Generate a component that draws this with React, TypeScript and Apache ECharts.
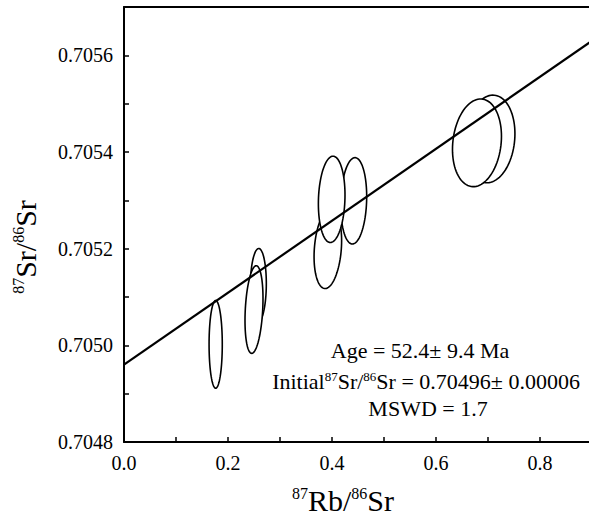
import React, { useEffect, useRef } from "react";
import * as echarts from "echarts";

// Isochron regression line (x = 87Rb/86Sr, y = 87Sr/86Sr)
const LINE_X = [0, 0.9];
const LINE_Y = [0.70496, 0.70563];

// Error ellipses (drawing order): centre x, centre y, half-width, half-height, correlation
const ELL_X = [0.1763, 0.2583, 0.25, 0.392, 0.4417, 0.3994, 0.7038, 0.6788];
const ELL_Y = [0.705002, 0.705124, 0.705074, 0.7052, 0.705299, 0.705302, 0.705427, 0.705419];
const ELL_SX = [0.0127, 0.0154, 0.0173, 0.0265, 0.025, 0.0256, 0.048, 0.0471];
const ELL_SY = [0.0000907, 0.0000763, 0.0000907, 0.0000825, 0.0000893, 0.0000893, 0.0000907, 0.0000907];
const ELL_RHO = [0, 0.05, 0.25, 0.2, 0.1, 0.1, 0.12, 0.15];

const X_MIN = 0;
const X_MAX = 0.9;
const Y_MIN = 0.7048;
const Y_MAX = 0.7057;

const FONT = "Liberation Serif";

export default function App() {
  const ref = useRef<HTMLDivElement>(null);
  useEffect(() => {
    if (!ref.current) return;
    const chart = echarts.init(ref.current, null, { renderer: "svg" });
    const ellData = ELL_X.map((x, i) => [x, ELL_Y[i], ELL_SX[i], ELL_SY[i], ELL_RHO[i]]);
    const axisLine = { show: true, lineStyle: { color: "#000", width: 2 } };
    chart.setOption({
      animation: false,
      backgroundColor: "#fff",
      textStyle: { fontFamily: FONT },
      grid: { left: 124, top: 7, right: -3, bottom: 80, containLabel: false, outerBoundsMode: "none" },
      xAxis: [
        {
          type: "value",
          min: X_MIN,
          max: X_MAX,
          interval: 0.1,
          axisLine,
          axisTick: { show: true, inside: true, length: 5, lineStyle: { color: "#000", width: 1.5 } },
          splitLine: { show: false },
          axisLabel: {
            margin: 11,
            color: "#000",
            fontSize: 20,
            fontFamily: "Times New Roman",
            showMaxLabel: false,
            formatter: (v: number) => (Math.round(v * 10) % 2 === 0 ? v.toFixed(1) : ""),
          },
        },
        {
          type: "value",
          position: "top",
          min: X_MIN,
          max: X_MAX,
          axisLine,
          axisTick: { show: false },
          axisLabel: { show: false },
          splitLine: { show: false },
        },
      ],
      yAxis: {
        type: "value",
        min: Y_MIN,
        max: Y_MAX,
        interval: 0.0001,
        axisLine,
        axisTick: { show: true, inside: true, length: 5, lineStyle: { color: "#000", width: 1.5 } },
        splitLine: { show: false },
        axisLabel: {
          margin: 11,
          color: "#000",
          fontSize: 20,
          fontFamily: "serif",
          showMaxLabel: false,
          formatter: (v: number) => (Math.round(v * 10000) % 2 === 0 ? v.toFixed(4) : ""),
        },
      },
      series: [
        {
          type: "line",
          xAxisIndex: 0,
          data: LINE_X.map((x, i) => [x, LINE_Y[i]]),
          symbol: "none",
          lineStyle: { color: "#000", width: 2.2 },
          silent: true,
        },
        {
          type: "custom",
          xAxisIndex: 0,
          data: ellData,
          encode: { x: 0, y: 1 },
          renderItem: (params: any, api: any) => {
            const cx = api.value(0);
            const cy = api.value(1);
            const sx = api.value(2);
            const sy = api.value(3);
            const r = api.value(4);
            const q = Math.sqrt(1 - r * r);
            const pts: number[][] = [];
            const n = 90;
            for (let i = 0; i < n; i++) {
              const t = (i / n) * Math.PI * 2;
              const x = cx + sx * Math.cos(t);
              const y = cy + sy * (r * Math.cos(t) + q * Math.sin(t));
              pts.push(api.coord([x, y]));
            }
            return {
              type: "polygon",
              shape: { points: pts },
              style: { fill: "#fff", stroke: "#000", lineWidth: 1.6 },
            };
          },
        },
      ],
      graphic: [
        {
          type: "text",
          x: 25,
          y: 247,
          rotation: Math.PI / 2,
          style: {
            text: "{s|87}{m|Sr/}{s|86}{m|Sr}",
            align: "center",
            verticalAlign: "middle",
            fill: "#000",
            fontFamily: FONT,
            rich: {
              s: { fontSize: 16, fontFamily: FONT, verticalAlign: "top", lineHeight: 30 },
              m: { fontSize: 30, fontFamily: FONT, lineHeight: 30 },
            },
          },
        },
        {
          type: "text",
          x: 343,
          y: 500,
          style: {
            text: "{s|87}{m|Rb/}{s|86}{m|Sr}",
            align: "center",
            verticalAlign: "middle",
            fill: "#000",
            fontFamily: FONT,
            rich: {
              s: { fontSize: 16, fontFamily: FONT, verticalAlign: "top", lineHeight: 30 },
              m: { fontSize: 30, fontFamily: FONT, lineHeight: 30 },
            },
          },
        },
        {
          type: "text",
          x: 420,
          y: 350,
          style: {
            text: "Age = 52.4± 9.4 Ma",
            align: "center",
            verticalAlign: "middle",
            fill: "#000",
            fontSize: 22,
            fontFamily: FONT,
          },
        },
        {
          type: "text",
          x: 426,
          y: 381,
          style: {
            text: "{m|Initial}{s|87}{m|Sr/}{s|86}{m|Sr = 0.70496± 0.00006}",
            align: "center",
            verticalAlign: "middle",
            fill: "#000",
            fontFamily: FONT,
            rich: {
              s: { fontSize: 13, fontFamily: FONT, verticalAlign: "top", lineHeight: 22 },
              m: { fontSize: 22, fontFamily: FONT, lineHeight: 22 },
            },
          },
        },
        {
          type: "text",
          x: 428,
          y: 408,
          style: {
            text: "MSWD = 1.7",
            align: "center",
            verticalAlign: "middle",
            fill: "#000",
            fontSize: 22,
            fontFamily: FONT,
          },
        },
      ],
    });
    return () => chart.dispose();
  }, []);
  return <div ref={ref} style={{ width: 589, height: 522, position: "absolute", left: 0, top: 0 }} />;
}
